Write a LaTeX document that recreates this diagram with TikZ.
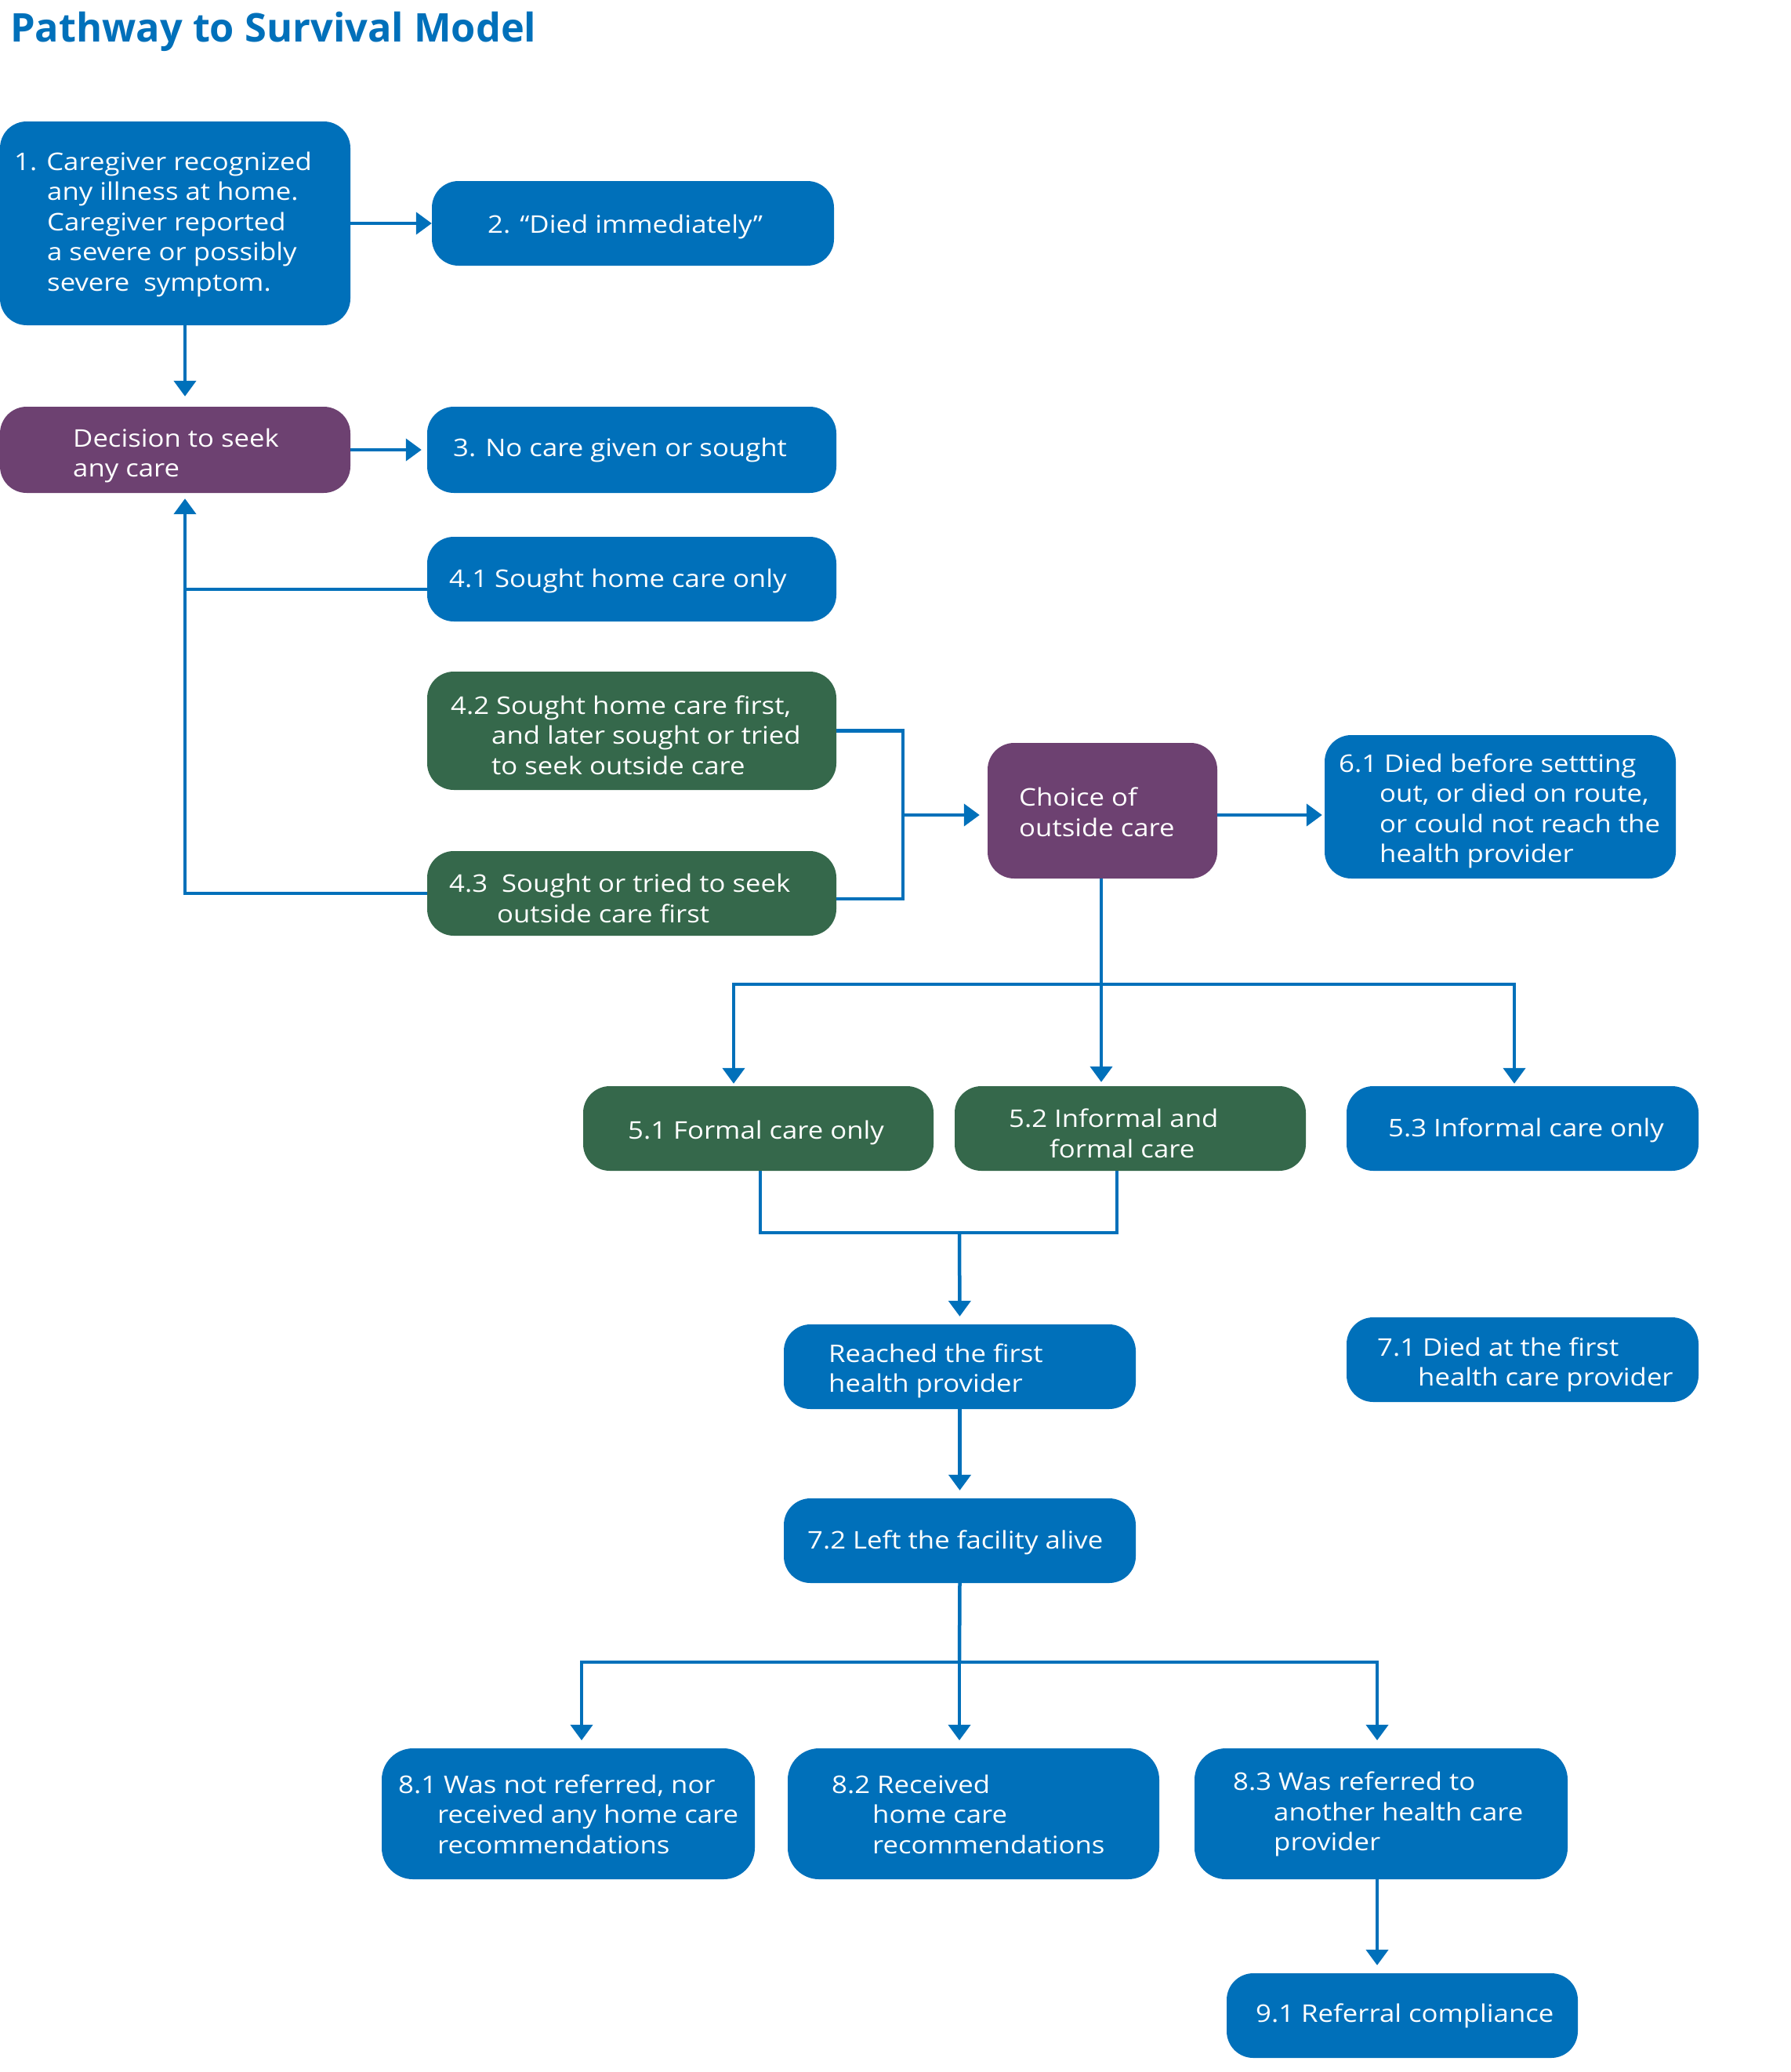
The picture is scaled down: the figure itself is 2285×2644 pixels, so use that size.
\documentclass[tikz,border=0pt]{standalone}
\usepackage{fontspec}
\setmainfont{Open Sans}[FakeStretch=1.12]
\newfontfamily\titlefont{Open Sans}
\usetikzlibrary{arrows.meta,calc}
\definecolor{cblue}{HTML}{0070BA}
\definecolor{cpurple}{HTML}{6D4171}
\definecolor{cgreen}{HTML}{35684B}
\begin{document}
\begin{tikzpicture}[x=1pt,y=-1pt,
  box/.style={fill=#1, rounded corners=34pt, inner sep=0pt, draw=none},
  txt/.style={text=white, font=\fontsize{31}{38.5}\selectfont, align=left, anchor=west, inner sep=0pt},
  conn/.style={draw=cblue, line width=4.5pt},
  arr/.style={conn, -{Triangle[length=20pt,width=28pt]}}]
\useasboundingbox[fill=white] (0,0) rectangle (2285,2644);

\node[anchor=west, inner sep=0pt, text=cblue, font=\titlefont\bfseries\fontsize{50.5}{60}\selectfont] (title) at (13,40) {Pathway to Survival Model};

% boxes
\node[box=cblue, minimum width=447pt, minimum height=260pt] (b1) at (223.5,285) {};
\node[box=cblue, minimum width=513pt, minimum height=108pt] (b2) at (807.5,285) {};
\node[box=cpurple, minimum width=447pt, minimum height=110pt] (dec) at (223.5,574) {};
\node[box=cblue, minimum width=522pt, minimum height=110pt] (b3) at (806,574) {};
\node[box=cblue, minimum width=522pt, minimum height=108pt] (b41) at (806,739) {};
\node[box=cgreen, minimum width=522pt, minimum height=151pt] (b42) at (806,932.5) {};
\node[box=cgreen, minimum width=522pt, minimum height=108pt] (b43) at (806,1140) {};
\node[box=cpurple, minimum width=293pt, minimum height=173pt] (choice) at (1406.5,1034.5) {};
\node[box=cblue, minimum width=448pt, minimum height=183pt] (b61) at (1914,1029.5) {};
\node[box=cgreen, minimum width=447pt, minimum height=108pt] (b51) at (967.5,1440) {};
\node[box=cgreen, minimum width=448pt, minimum height=108pt] (b52) at (1442,1440) {};
\node[box=cblue, minimum width=449pt, minimum height=108pt] (b53) at (1942.5,1440) {};
\node[box=cblue, minimum width=449pt, minimum height=108pt] (reach) at (1224.5,1744) {};
\node[box=cblue, minimum width=449pt, minimum height=108pt] (b71) at (1942.5,1735) {};
\node[box=cblue, minimum width=449pt, minimum height=108pt] (b72) at (1224.5,1966) {};
\node[box=cblue, rounded corners=40pt, minimum width=476pt, minimum height=167pt] (b81) at (725,2314.5) {};
\node[box=cblue, rounded corners=40pt, minimum width=474pt, minimum height=167pt] (b82) at (1242,2314.5) {};
\node[box=cblue, rounded corners=40pt, minimum width=476pt, minimum height=167pt] (b83) at (1762,2314.5) {};
\node[box=cblue, minimum width=448pt, minimum height=108pt] (b91) at (1789,2572) {};

% texts
\node[txt] (t1) at (18,286) {1. Caregiver recognized\\\hspace*{42pt}any illness at home.\\\hspace*{42pt}Caregiver reported\\\hspace*{42pt}a severe or possibly\\\hspace*{42pt}severe\ \ symptom.};
\node[txt] (t2) at (622,289) {2. “Died immediately”};
\node[txt] (tdec) at (93,581.5) {Decision to seek\\any care};
\node[txt] (t3) at (578,574) {3. No care given or sought};
\node[txt] (t41) at (573,741) {4.1 Sought home care only};
\node[txt] (t42) at (575,938) {4.2 Sought home care first,\\\hspace*{52pt}and later sought or tried\\\hspace*{52pt}to seek outside care};
\node[txt] (t43) at (573,1146.5) {4.3\ \ Sought or tried to seek\\\hspace*{61pt}outside care first};
\node[txt] (tch) at (1300,1036.5) {Choice of\\outside care};
\node[txt] (t61) at (1708,1035) {6.1 Died before settting\\\hspace*{52pt}out, or died on route,\\\hspace*{52pt}or could not reach the\\\hspace*{52pt}health provider};
\node[txt] (t51) at (801,1445) {5.1 Formal care only};
\node[txt] (t52) at (1287,1446.5) {5.2 Informal and\\\hspace*{52pt}formal care};
\node[txt] (t53) at (1771,1442) {5.3 Informal care only};
\node[txt] (trc) at (1057,1749.5) {Reached the first\\health provider};
\node[txt] (t71) at (1757,1741.5) {7.1 Died at the first\\\hspace*{52pt}health care provider};
\node[txt] (t72) at (1030,1968) {7.2 Left the facility alive};
\node[txt] (t81) at (508,2315) {8.1 Was not referred, nor\\\hspace*{50pt}received any home care\\\hspace*{50pt}recommendations};
\node[txt] (t82) at (1061,2315) {8.2 Received\\\hspace*{52pt}home care\\\hspace*{52pt}recommendations};
\node[txt] (t83) at (1573,2315) {8.3 Was referred to\\\hspace*{52pt}another health care\\\hspace*{52pt}provider};
\node[txt] (t91) at (1602,2572) {9.1 Referral compliance};

% helper coordinates
\coordinate (colA) at (236,0);
\coordinate (r41) at (0,752);
\coordinate (brk) at (1152,0);
\coordinate (r43) at (0,1147);
\coordinate (rch) at (0,1040);
\coordinate (hub5) at (1405,1256);
\coordinate (c51) at (936,0);
\coordinate (c53) at (1932,0);
\coordinate (j5) at (1224,1573);
\coordinate (c51b) at (970,0);
\coordinate (c52b) at (1425,0);
\coordinate (hub8) at (1224,2121);
\coordinate (c81) at (742,0);
\coordinate (c83) at (1757,0);

% connectors
\draw[arr] (b1.east) -- (b2.west);
\draw[arr, shorten >=13pt] (b1.south -| colA) -- (dec.north -| colA);
\draw[arr, shorten >=7pt] (dec.east) -- (b3.west);
\draw[conn] (b41.west |- r41) -- (colA |- r41);
\draw[arr, shorten >=7pt] (b43.west) -| (colA |- dec.south);
\draw[conn] (b42.east) -| (brk |- r43) -- (b43.east |- r43);
\draw[arr, shorten >=10pt] (brk |- rch) -- (choice.west |- rch);
\draw[arr, shorten >=3pt] (choice.east |- rch) -- (b61.west |- rch);
\draw[arr, shorten >=5pt] (choice.south -| hub5) -- (b52.north -| hub5);
\draw[arr, shorten >=3pt] (hub5) -| (b51.north -| c51);
\draw[arr, shorten >=3pt] (hub5) -| (b53.north -| c53);
\draw[conn] (b51.south -| c51b) |- (j5) -| (b52.south -| c52b);
\draw[arr, shorten >=10pt] (j5) -- (reach.north);
\draw[arr, shorten >=10pt] (reach.south) -- (b72.north);
\draw[conn] (b72.south) -- (hub8);
\draw[arr, shorten >=10pt] (hub8) -| (b81.north -| c81);
\draw[arr, shorten >=10pt] (hub8) -- (b82.north -| hub8);
\draw[arr, shorten >=10pt] (hub8) -| (b83.north -| c83);
\draw[arr, shorten >=10pt] (b83.south -| c83) -- (b91.north -| c83);
\end{tikzpicture}
\end{document}
